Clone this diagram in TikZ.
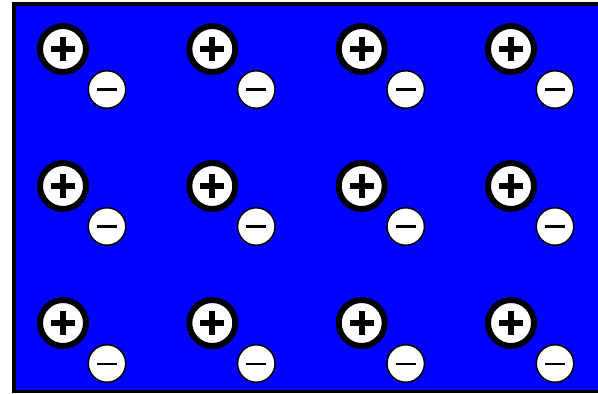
\documentclass[tikz,border=0pt]{standalone}
\begin{document}
\begin{tikzpicture}[x=0.02cm,y=-0.02cm]
  \tikzset{
    cation/.style={circle,draw=black,line width=3.4pt,fill=white,minimum size=0.92cm,inner sep=0pt,
      path picture={\draw[line width=3.4pt]
        ([xshift=-0.24cm]path picture bounding box.center) -- ([xshift=0.24cm]path picture bounding box.center)
        ([yshift=-0.24cm]path picture bounding box.center) -- ([yshift=0.24cm]path picture bounding box.center);}},
    anion/.style={circle,draw=black,line width=0.85pt,fill=white,minimum size=0.75cm,inner sep=0pt,
      path picture={\draw[line width=1.15pt]
        ([xshift=-0.2cm]path picture bounding box.center) -- ([xshift=0.2cm]path picture bounding box.center);}}
  }
  \useasboundingbox (0,0) rectangle (598,393);
  \draw[line width=2pt,fill=blue] (14,4) rectangle (610,391.5);
  \foreach \i/\x in {1/63,2/212.3,3/361.7,4/511}
    \foreach \j/\y in {1/49,2/186,3/323} {
      \node[cation] (pos-\i-\j) at (\x,\y) {};
      \node[anion] (neg-\i-\j) at (\x+44,\y+40.5) {};
    }
\end{tikzpicture}
\end{document}
